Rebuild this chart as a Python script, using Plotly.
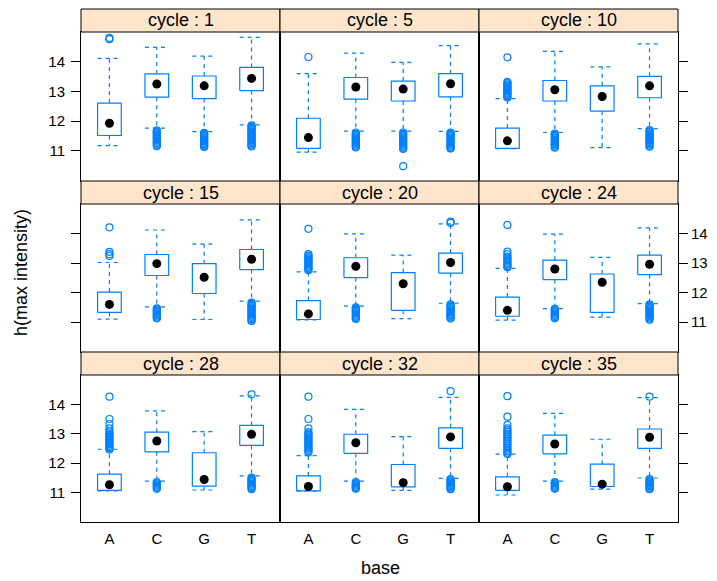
import plotly.graph_objects as go

# ---- data -------------------------------------------------------------
cycles = [1, 5, 10, 15, 20, 24, 28, 32, 35]
bases = ["A", "C", "G", "T"]

# box statistics per cycle, one value per base (A, C, G, T)
whisker_low = [
    [11.18, 11.77, 11.65, 11.88],
    [10.96, 11.67, 11.67, 11.66],
    [11.08, 11.62, 11.11, 11.75],
    [11.10, 11.52, 11.09, 11.71],
    [11.08, 11.54, 11.12, 11.64],
    [11.07, 11.46, 11.17, 11.63],
    [11.05, 11.38, 11.08, 11.56],
    [11.05, 11.38, 11.07, 11.48],
    [10.91, 11.38, 11.11, 11.49],
]
q1 = [
    [11.52, 12.81, 12.76, 13.03],
    [11.09, 12.74, 12.68, 12.82],
    [11.09, 12.68, 12.34, 12.79],
    [11.33, 12.58, 11.97, 12.78],
    [11.09, 12.51, 11.40, 12.66],
    [11.20, 12.44, 11.33, 12.61],
    [11.07, 12.38, 11.21, 12.60],
    [11.05, 12.33, 11.19, 12.50],
    [11.07, 12.31, 11.20, 12.50],
]
median = [
    [11.93, 13.25, 13.19, 13.44],
    [11.45, 13.15, 13.08, 13.26],
    [11.34, 13.06, 12.83, 13.19],
    [11.60, 12.98, 12.52, 13.13],
    [11.28, 12.89, 12.30, 13.02],
    [11.40, 12.80, 12.35, 12.96],
    [11.26, 12.75, 11.44, 12.98],
    [11.20, 12.69, 11.33, 12.89],
    [11.19, 12.65, 11.28, 12.88],
]
q3 = [
    [12.61, 13.59, 13.52, 13.81],
    [12.10, 13.47, 13.35, 13.60],
    [11.77, 13.37, 13.19, 13.51],
    [12.02, 13.29, 12.98, 13.46],
    [11.73, 13.18, 12.68, 13.34],
    [11.85, 13.10, 12.63, 13.27],
    [11.62, 13.05, 12.35, 13.28],
    [11.56, 12.98, 11.95, 13.20],
    [11.53, 12.95, 11.96, 13.16],
]
whisker_high = [
    [14.11, 14.48, 14.19, 14.82],
    [13.60, 14.29, 13.98, 14.54],
    [12.76, 14.35, 13.83, 14.60],
    [13.02, 14.12, 13.64, 14.46],
    [12.70, 13.99, 13.27, 14.33],
    [12.82, 13.98, 13.19, 14.19],
    [12.47, 13.78, 13.07, 14.29],
    [12.25, 13.83, 12.90, 14.24],
    [12.30, 13.69, 12.81, 14.23],
]

# outlying observations per cycle and base
outliers = [
    [  # cycle 1
        [14.80, 14.76],
        [11.69, 11.65, 11.62, 11.58, 11.54, 11.51, 11.47, 11.43, 11.39, 11.35,
         11.31, 11.27, 11.24, 11.20, 11.16],
        [11.61, 11.57, 11.54, 11.50, 11.46, 11.42, 11.38, 11.34, 11.31, 11.27,
         11.23, 11.19, 11.15, 11.13],
        [11.86, 11.82, 11.78, 11.74, 11.70, 11.66, 11.62, 11.58, 11.54, 11.50,
         11.46, 11.42, 11.38, 11.34, 11.30, 11.26, 11.22, 11.18, 11.15],
    ],
    [  # cycle 5
        [14.16],
        [11.62, 11.58, 11.54, 11.50, 11.46, 11.42, 11.38, 11.34, 11.30, 11.26,
         11.22, 11.18, 11.14, 11.12],
        [11.62, 11.58, 11.54, 11.50, 11.46, 11.42, 11.38, 11.34, 11.30, 11.26,
         11.22, 11.18, 11.14, 11.10, 11.07, 10.49],
        [11.62, 11.58, 11.54, 11.50, 11.46, 11.42, 11.38, 11.34, 11.30, 11.26,
         11.22, 11.18, 11.14, 11.10, 11.08],
    ],
    [  # cycle 10
        [14.15, 13.32, 13.28, 13.24, 13.20, 13.16, 13.12, 13.08, 13.04, 13.00,
         12.96, 12.92, 12.88, 12.84, 12.80],
        [11.58, 11.54, 11.50, 11.46, 11.42, 11.38, 11.34, 11.30, 11.26, 11.22,
         11.18, 11.14, 11.11],
        [],
        [11.70, 11.66, 11.62, 11.58, 11.54, 11.50, 11.46, 11.42, 11.38, 11.34,
         11.30, 11.26, 11.22, 11.18, 11.14],
    ],
    [  # cycle 15
        [14.21, 13.38, 13.30, 13.24],
        [11.47, 11.43, 11.39, 11.35, 11.31, 11.27, 11.23, 11.19, 11.15, 11.13],
        [],
        [11.66, 11.62, 11.58, 11.54, 11.50, 11.46, 11.42, 11.38, 11.34, 11.30,
         11.26, 11.22, 11.18, 11.14, 11.10, 11.06, 11.04],
    ],
    [  # cycle 20
        [14.16, 13.30, 13.25, 13.20, 13.16, 13.12, 13.08, 13.04, 13.00, 12.96,
         12.92, 12.88, 12.84, 12.80, 12.76],
        [11.50, 11.46, 11.42, 11.38, 11.34, 11.30, 11.26, 11.22, 11.18, 11.14,
         11.11],
        [],
        [14.40, 14.36, 11.60, 11.56, 11.52, 11.48, 11.44, 11.40, 11.36, 11.32,
         11.28, 11.24, 11.20, 11.16, 11.12],
    ],
    [  # cycle 24
        [14.29, 13.39, 13.30, 13.22, 13.16, 13.10, 13.05, 13.00, 12.95, 12.90,
         12.86],
        [11.45, 11.41, 11.37, 11.33, 11.29, 11.25, 11.21, 11.17, 11.13],
        [],
        [11.60, 11.56, 11.52, 11.48, 11.44, 11.40, 11.36, 11.32, 11.28, 11.24,
         11.20, 11.16, 11.12, 11.08],
    ],
    [  # cycle 28
        [14.26, 13.50, 13.33, 13.18, 13.09, 13.04, 12.99, 12.94, 12.89, 12.84,
         12.79, 12.74, 12.69, 12.64, 12.59, 12.54, 12.50, 12.46],
        [11.35, 11.31, 11.27, 11.23, 11.19, 11.15, 11.12],
        [],
        [14.34, 11.50, 11.46, 11.42, 11.38, 11.34, 11.30, 11.26, 11.22, 11.18,
         11.14, 11.11],
    ],
    [  # cycle 32
        [14.26, 13.50, 13.18, 13.05, 13.00, 12.95, 12.90, 12.85, 12.80, 12.75,
         12.70, 12.65, 12.60, 12.55, 12.50, 12.45, 12.40, 12.36],
        [11.35, 11.31, 11.27, 11.23, 11.19, 11.15, 11.12],
        [],
        [14.45, 11.45, 11.41, 11.37, 11.33, 11.29, 11.25, 11.21, 11.17, 11.13,
         11.11],
    ],
    [  # cycle 35
        [14.28, 13.58, 13.30, 13.18, 13.12, 13.06, 13.00, 12.94, 12.88, 12.82,
         12.76, 12.70, 12.64, 12.58, 12.52, 12.46, 12.40, 12.35, 12.31],
        [11.35, 11.31, 11.27, 11.23, 11.19, 11.15, 11.12],
        [],
        [14.26, 11.45, 11.41, 11.37, 11.33, 11.29, 11.25, 11.21, 11.17, 11.13,
         11.11],
    ],
]

y_ticks = [11, 12, 13, 14]

# ---- styling / layout geometry -----------------------------------------
W, H = 717, 581
BLUE = "#0080ff"
STRIP = "#ffe5cc"
FONT = "Liberation Sans, Arial, sans-serif"
TICK_SIZE = 15
LABEL_SIZE = 18
col_edges = [81, 280, 479, 678]
strip_top = [9, 181, 352]
body_top = [32, 204, 375]
body_bot = [181, 352, 522]
half_box = 0.25
positions = list(range(1, len(bases) + 1))


def px_x(v):
    return v / W


def px_y(v):
    return 1 - v / H


fig = go.Figure()
shapes = []
annotations = []

for i, cyc in enumerate(cycles):
    r, c = divmod(i, 3)
    k = i + 1
    xa = "x" if k == 1 else f"x{k}"
    ya = "y" if k == 1 else f"y{k}"

    # boxes
    bx, by = [], []
    for j, p in enumerate(positions):
        bx += [p - half_box, p + half_box, p + half_box, p - half_box, p - half_box, None]
        by += [q1[i][j], q1[i][j], q3[i][j], q3[i][j], q1[i][j], None]
    fig.add_trace(go.Scatter(x=bx, y=by, mode="lines", xaxis=xa, yaxis=ya,
                             line=dict(color=BLUE, width=1.2),
                             hoverinfo="skip", showlegend=False))

    # whiskers and caps
    wx, wy = [], []
    for j, p in enumerate(positions):
        wx += [p, p, None, p, p, None]
        wy += [q3[i][j], whisker_high[i][j], None, q1[i][j], whisker_low[i][j], None]
        wx += [p - half_box, p + half_box, None, p - half_box, p + half_box, None]
        wy += [whisker_high[i][j], whisker_high[i][j], None,
               whisker_low[i][j], whisker_low[i][j], None]
    fig.add_trace(go.Scatter(x=wx, y=wy, mode="lines", xaxis=xa, yaxis=ya,
                             line=dict(color=BLUE, width=1.2, dash="4px,4px"),
                             hoverinfo="skip", showlegend=False))

    # outliers
    ox, oy = [], []
    for j, p in enumerate(positions):
        ox += [p] * len(outliers[i][j])
        oy += outliers[i][j]
    fig.add_trace(go.Scatter(x=ox, y=oy, mode="markers", xaxis=xa, yaxis=ya,
                             marker=dict(symbol="circle-open", size=7,
                                         color=BLUE, line=dict(width=1.2, color=BLUE)),
                             hoverinfo="skip", showlegend=False))

    # medians
    fig.add_trace(go.Scatter(x=positions, y=median[i], mode="markers",
                             xaxis=xa, yaxis=ya,
                             marker=dict(symbol="circle", size=9, color="black"),
                             hoverinfo="skip", showlegend=False))

    x0, x1 = col_edges[c], col_edges[c + 1]
    xdom = [px_x(x0), px_x(x1)]
    ydom = [px_y(body_bot[r]), px_y(body_top[r])]

    xaxis = dict(domain=xdom, range=[0.4, 4.6], anchor=ya,
                 tickvals=positions, ticktext=bases,
                 showticklabels=(r == 2), ticks="outside" if r == 2 else "",
                 ticklen=3, tickcolor="rgba(0,0,0,0)",
                 showgrid=False, zeroline=False,
                 showline=True, mirror=True, linecolor="black", linewidth=1,
                 tickfont=dict(family=FONT, size=TICK_SIZE, color="black"))
    yaxis = dict(domain=ydom, range=[9.99, 15.0], anchor=xa,
                 tickvals=y_ticks, showgrid=False, zeroline=False,
                 showline=True, mirror=True, linecolor="black", linewidth=1,
                 tickfont=dict(family=FONT, size=TICK_SIZE, color="black"))
    if c == 0:
        yaxis.update(side="left", ticks="outside", ticklen=9, tickcolor="black",
                     showticklabels=(r != 1), ticklabelstandoff=3)
    elif c == 2:
        yaxis.update(side="right", ticks="outside", ticklen=9, tickcolor="black",
                     showticklabels=(r == 1))
    else:
        yaxis.update(ticks="", showticklabels=False)

    fig.layout[f"xaxis{'' if k == 1 else k}"] = xaxis
    fig.layout[f"yaxis{'' if k == 1 else k}"] = yaxis

    # strip
    shapes.append(dict(type="rect", xref="paper", yref="paper",
                       x0=px_x(x0), x1=px_x(x1),
                       y0=px_y(body_top[r]), y1=px_y(strip_top[r]),
                       fillcolor=STRIP, line=dict(color="black", width=1),
                       layer="above"))
    annotations.append(dict(xref="paper", yref="paper",
                            x=px_x((x0 + x1) / 2),
                            y=px_y((strip_top[r] + body_top[r]) / 2),
                            text=f"cycle : {cyc}", showarrow=False,
                            xanchor="center", yanchor="middle",
                            font=dict(family=FONT, size=LABEL_SIZE, color="black")))

annotations.append(dict(xref="paper", yref="paper", x=px_x(380), y=px_y(568),
                        text="base", showarrow=False, xanchor="center",
                        yanchor="middle",
                        font=dict(family=FONT, size=LABEL_SIZE, color="black")))
annotations.append(dict(xref="paper", yref="paper", x=px_x(21), y=px_y(273),
                        text="h(max intensity)", showarrow=False, textangle=-90,
                        xanchor="center", yanchor="middle",
                        font=dict(family=FONT, size=LABEL_SIZE, color="black")))

fig.update_layout(width=W, height=H, margin=dict(l=0, r=0, t=0, b=0),
                  paper_bgcolor="white", plot_bgcolor="white",
                  shapes=shapes, annotations=annotations, showlegend=False)

fig.write_html("out.html")
